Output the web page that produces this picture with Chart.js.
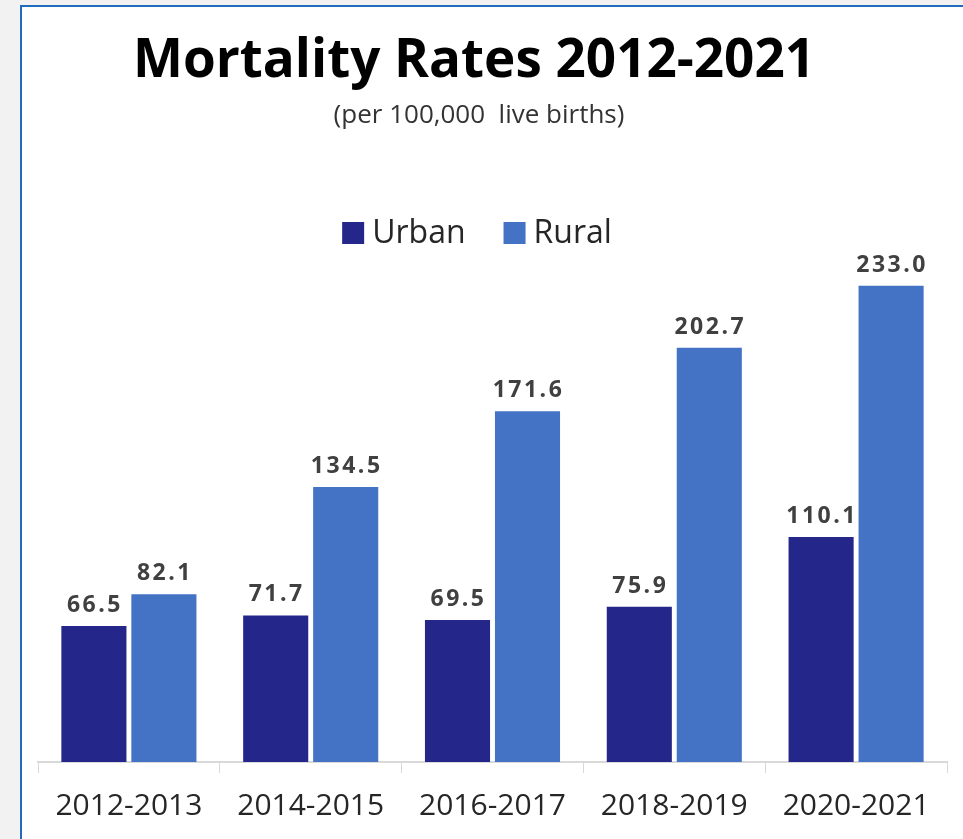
<!DOCTYPE html>
<html>
<head>
<meta charset="utf-8">
<script src="https://cdn.jsdelivr.net/npm/chart.js@4.4.1/dist/chart.umd.min.js"></script>
<style>
  html, body { margin: 0; padding: 0; background: #f2f2f2; overflow: hidden; }
  #card { position: absolute; left: 20px; top: 5px; width: 960px; height: 850px;
          background: #fff; border: 2px solid #1f6bbf; }
  #wrap { position: absolute; left: 0; top: 0; width: 963px; height: 839px; }
</style>
</head>
<body>
<div id="card"></div>
<div id="wrap"><canvas id="grafico" width="963" height="839"></canvas></div>
<script>
// datos
const periodos = ['2012-2013', '2014-2015', '2016-2017', '2018-2019', '2020-2021'];
const urbano = [66.5, 71.7, 69.5, 75.9, 110.1];
const rural = [82.1, 134.5, 171.6, 202.7, 233.0];
const colores = ['#25268a', '#4472c4'];

// etiquetas con el valor encima de cada barra
const etiquetasValor = {
  id: 'etiquetasValor',
  afterDatasetsDraw(chart) {
    const ctx = chart.ctx;
    ctx.save();
    ctx.font = 'bold 23px "Open Sans"';
    ctx.letterSpacing = '2.5px';
    ctx.fillStyle = '#404040';
    ctx.textAlign = 'center';
    ctx.textBaseline = 'alphabetic';
    chart.data.datasets.forEach((ds, i) => {
      chart.getDatasetMeta(i).data.forEach((bar, j) => {
        ctx.fillText(ds.data[j].toFixed(1), bar.x + 1, bar.y - 14);
      });
    });
    ctx.restore();
  }
};

// titulo, subtitulo y leyenda (centrados sobre la tarjeta, no sobre el area)
const cabecera = {
  id: 'cabecera',
  afterDraw(chart) {
    const ctx = chart.ctx;
    ctx.save();
    ctx.textAlign = 'center';
    ctx.textBaseline = 'middle';
    ctx.fillStyle = '#000';
    ctx.font = 'bold 53px "Open Sans"';
    ctx.fillText('Mortality Rates 2012-2021', 474, 62);
    ctx.fillStyle = '#333';
    ctx.font = '26px "Open Sans"';
    ctx.fillText('(per 100,000  live births)', 479, 116);

    ctx.font = '32px "Open Sans"';
    ctx.textAlign = 'left';
    const caja = 22, sep = 8, entre = 38;
    const anchos = chart.data.datasets.map(d => ctx.measureText(d.label).width);
    let total = anchos.reduce((a, w) => a + caja + sep + w, 0) + entre;
    let x = 477 - total / 2;
    const yc = 233;
    chart.data.datasets.forEach((d, i) => {
      ctx.fillStyle = d.backgroundColor;
      ctx.fillRect(x, yc - caja / 2, caja, caja);
      ctx.fillStyle = '#262626';
      ctx.fillText(d.label, x + caja + sep, yc + 1);
      x += caja + sep + anchos[i] + entre;
    });
    ctx.restore();
  }
};

const ctx = document.getElementById('grafico').getContext('2d');
new Chart(ctx, {
  type: 'bar',
  data: {
    labels: periodos,
    datasets: [
      { label: 'Urban', data: urbano, backgroundColor: colores[0] },
      { label: 'Rural', data: rural, backgroundColor: colores[1] }
    ]
  },
  options: {
    responsive: false,
    animation: false,
    categoryPercentage: 0.77,
    barPercentage: 0.93,
    layout: { padding: { left: 38, right: 16, top: 251, bottom: 0 } },
    plugins: {
      title: { display: false },
      legend: { display: false },
      tooltip: { enabled: false }
    },
    scales: {
      x: {
        grid: { drawOnChartArea: false, color: '#d9d9d9', tickLength: 11 },
        border: { color: '#d9d9d9', width: 2 },
        ticks: { color: '#262626', font: { family: '"Open Sans"', size: 30, lineHeight: 1 }, padding: 18 }
      },
      y: {
        display: false,
        min: 0,
        max: 250
      }
    }
  },
  plugins: [etiquetasValor, cabecera]
});
</script>
</body>
</html>
